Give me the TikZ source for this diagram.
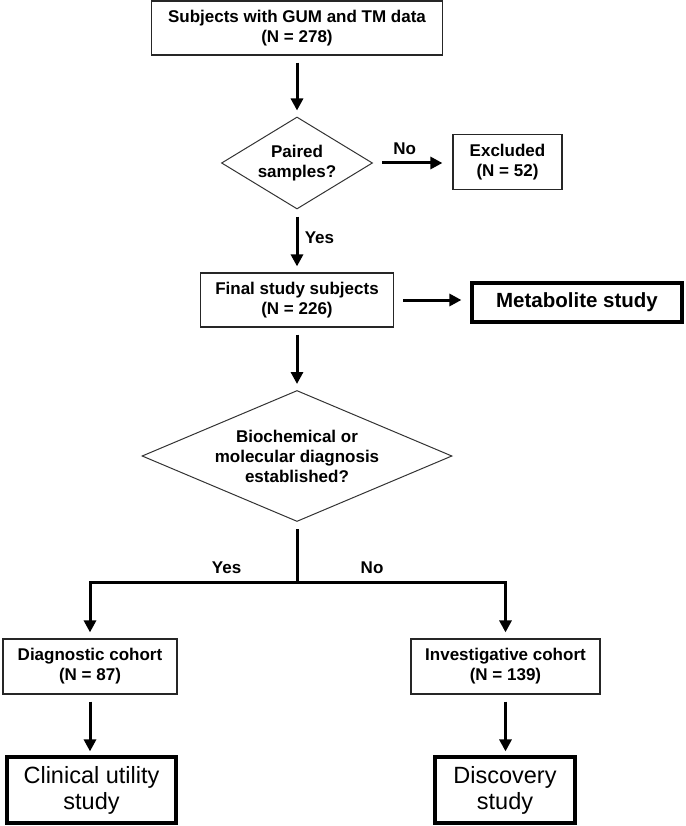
\documentclass[tikz,border=0pt]{standalone}
\usepackage{fontspec}
\setmainfont{Liberation Sans}
\usetikzlibrary{shapes.geometric,positioning,arrows.meta}
\tikzset{
  >={Triangle[length=12pt,width=12pt]},
  box/.style={draw=black!85, line width=1.2pt, fill=white, align=center,
    inner sep=0pt, font=\fontsize{17}{20}\selectfont\bfseries},
  endbox/.style={draw, line width=3.2pt, fill=white, align=center, inner sep=0pt},
  decision/.style={diamond, draw=black!80, line width=1pt, align=center,
    inner sep=0pt, font=\fontsize{17}{20}\selectfont\bfseries},
  flow/.style={->, line width=3pt, shorten <=7pt, shorten >=6pt},
  lbl/.style={font=\fontsize{17}{20}\selectfont\bfseries}
}

\begin{document}
\begin{tikzpicture}[x=1pt, y=-1pt]
      \useasboundingbox (0,0) rectangle (685,826);

      \node[box, minimum width=291pt, minimum height=54pt] (subj) at (297, 28) {Subjects with GUM and TM data\\(N = 278)};
      \node[decision, aspect=1.64, minimum width=151pt, minimum height=92pt] (paired) at (297, 163) {Paired\\samples?};
      \node[box, minimum width=109pt, minimum height=55pt] (excl) at (507.5, 162) {Excluded\\(N = 52)};
      \node[box, minimum width=193pt, minimum height=54pt] (final) at (297, 300) {Final study subjects\\(N = 226)};
      \node[endbox, minimum width=210pt, minimum height=39pt,
        font=\fontsize{20.5}{24}\selectfont\bfseries] (metab) at (577, 302.5) {Metabolite study};
      \node[decision, aspect=2.37, minimum width=310pt, minimum height=131pt] (diagn) at (297, 456) {Biochemical or\\molecular diagnosis\\established?};
      \coordinate (split) at (297, 582);
      \node[box, minimum width=174pt, minimum height=55pt] (diag) at (90, 666.5) {Diagnostic cohort\\(N = 87)};
      \node[box, minimum width=189pt, minimum height=55pt] (inv) at (505.5, 666.5) {Investigative cohort\\(N = 139)};
      \node[endbox, minimum width=169pt, minimum height=66pt,
        font=\fontsize{23.5}{26}\selectfont] (clin) at (91.5, 790) {Clinical utility\\study};
      \node[endbox, minimum width=140pt, minimum height=66pt,
        font=\fontsize{23.5}{26}\selectfont] (disc) at (505, 790) {Discovery\\study};

      \path[flow] (subj) edge (paired)
      (paired) edge node[lbl, pos=0.45, right=3pt] {Yes} (final)
      (paired.east) edge [shorten <=9pt, shorten >=10pt] node[lbl, pos=0.4, above=3pt] {No} (paired.east -| excl.west)
      (final.east) edge [shorten <=9pt, shorten >=9pt] (final.east -| metab.west)
      (final) edge (diagn)
      (diag.south) edge [shorten >=4pt] (diag.south |- clin.north)
      (inv.south) edge [shorten >=4pt] (inv.south |- disc.north);

      \draw[line width=3pt, shorten <=7pt] (diagn.south) -- (split);
      \draw[flow, shorten <=0pt] (split) -| node[lbl, pos=0.17, above=4pt] {Yes} (diag.north);
      \draw[flow, shorten <=0pt] (split) -| node[lbl, pos=0.18, above=4pt] {No} (inv.north);
    \end{tikzpicture}
\end{document}
